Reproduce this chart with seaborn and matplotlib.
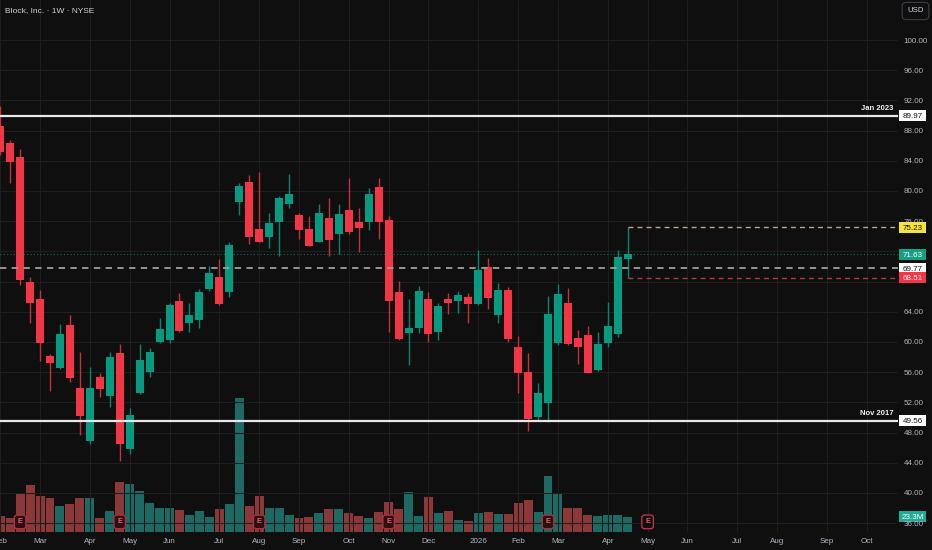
import numpy as np
import pandas as pd
import matplotlib
matplotlib.use("Agg")
import matplotlib.pyplot as plt
import matplotlib.transforms as mtransforms
from matplotlib.patches import Rectangle
import seaborn as sns

# ---------------- data ----------------
TITLE = "Block, Inc. · 1W · NYSE"
FIRST_WEEK = "2025-02-03"

opens = [88.61, 86.40, 84.54, 67.95, 65.70, 58.15, 56.52, 62.29, 53.87, 46.93,
         55.32, 52.85, 58.50, 45.87, 53.20, 56.07, 59.96, 60.26, 65.43, 62.56,
         62.87, 67.02, 68.65, 66.62, 78.50, 81.15, 74.97, 73.95, 75.89, 78.32,
         76.82, 75.01, 73.21, 76.46, 74.30, 77.48, 75.93, 75.89, 80.57, 76.16,
         66.58, 61.23, 61.89, 65.66, 61.28, 65.66, 65.47, 65.92, 65.03, 69.93,
         63.58, 66.85, 59.38, 56.07, 50.11, 51.96, 59.91, 65.12, 60.49, 60.89,
         56.29, 59.83, 61.06, 70.95]
highs = [91.26, 86.75, 85.52, 68.65, 66.89, 58.41, 62.38, 63.58, 58.63, 56.73,
         55.85, 58.72, 59.74, 51.22, 59.74, 59.17, 63.14, 65.21, 66.45, 65.21,
         66.98, 70.07, 70.95, 73.25, 81.02, 82.12, 82.48, 77.05, 79.34, 82.25,
         77.13, 76.73, 78.28, 79.03, 78.24, 81.76, 77.79, 80.36, 81.68, 76.69,
         68.08, 65.66, 67.42, 66.62, 65.13, 66.45, 66.75, 66.45, 72.19, 71.17,
         67.78, 67.25, 60.79, 58.50, 54.61, 66.09, 67.68, 67.19, 61.59, 62.16,
         61.36, 65.34, 72.19, 75.23]
lows = [84.80, 81.10, 67.51, 62.56, 57.52, 53.55, 56.40, 54.74, 47.68, 46.49,
        52.75, 51.43, 44.28, 45.17, 53.10, 55.32, 59.83, 59.91, 61.28, 61.32,
        61.89, 66.79, 64.86, 66.00, 76.78, 72.94, 73.20, 72.41, 71.43, 77.71,
        73.68, 72.70, 73.20, 71.43, 71.66, 74.30, 71.96, 74.83, 73.68, 61.36,
        60.26, 56.95, 61.23, 60.00, 60.26, 63.67, 63.88, 62.56, 64.86, 64.41,
        62.56, 60.04, 53.28, 48.21, 49.58, 49.40, 59.60, 59.60, 57.13, 55.85,
        56.20, 59.38, 60.62, 68.51]
closes = [85.17, 83.88, 68.21, 65.21, 59.91, 57.18, 61.06, 55.19, 50.20, 53.87,
          53.81, 58.05, 46.49, 50.33, 57.62, 58.68, 61.72, 64.94, 61.46, 63.58,
          66.58, 69.18, 65.03, 72.81, 80.70, 73.95, 73.29, 75.80, 79.11, 79.60,
          74.83, 72.75, 77.05, 73.51, 76.91, 74.61, 75.14, 79.56, 75.89, 65.39,
          60.44, 61.89, 66.75, 61.06, 64.81, 65.21, 66.23, 65.03, 69.54, 65.83,
          66.89, 60.36, 55.93, 49.76, 53.20, 63.71, 66.32, 59.74, 59.34, 55.93,
          59.74, 62.12, 71.26, 71.63]
volumes_m = [23.8, 21.8, 58.9, 71.0, 54.3, 51.2, 40.1, 42.6, 51.2, 51.2,
             21.3, 31.5, 75.6, 72.5, 61.9, 43.6, 36.0, 36.0, 34.0, 26.4,
             31.5, 23.3, 35.5, 42.1, 203.5, 40.1, 54.3, 37.0, 36.0, 26.4,
             21.3, 23.3, 29.4, 34.5, 34.5, 29.4, 24.4, 21.3, 29.9, 46.2,
             35.0, 61.4, 24.4, 53.3, 28.9, 31.5, 17.8, 16.7, 28.4, 31.0,
             26.9, 26.9, 44.1, 48.2, 31.0, 85.2, 58.9, 36.0, 36.0, 26.4,
             24.4, 25.4, 25.4, 23.3]
earnings_weeks = [2, 12, 26, 39, 55]
upcoming_earnings_week = 65
level_prices = [89.97, 49.56]
level_labels = ["Jan 2023", "Nov 2017"]
alert_price = 69.77
price_ticks = [36, 40, 44, 48, 52, 56, 60, 64, 68, 72, 76, 80, 84, 88, 92, 96, 100]
hidden_ticks = [68, 72]          # fully covered by price boxes in the original
last_volume_label = "23.3M"

# ---------------- style ----------------
BG = "#0f0f0f"
UP = "#089981"
DOWN = "#f23645"
UP_WICK = "#0a8571"
DOWN_WICK = "#c62f3c"
VOL_UP = "#1d6a64"
VOL_DOWN = "#8c3838"
GRID = "#1e1e1e"
TXT = "#b2b5be"
FS = 5.8

sns.set_theme(style="dark", rc={"axes.facecolor": BG, "figure.facecolor": BG,
                                "savefig.facecolor": BG})
plt.rcParams["font.family"] = ["Liberation Sans", "DejaVu Sans"]

n = len(opens)
k = np.arange(n)
df = pd.DataFrame({"k": k, "open": opens, "high": highs, "low": lows,
                   "close": closes, "volume": volumes_m})
df["dir"] = np.where(df["close"] >= df["open"], "up", "down")

# calendar for time axis
all_weeks = pd.date_range(FIRST_WEEK, periods=91, freq="W-MON")
month_pos, month_txt = [], []
prev_m = None
for i, d in enumerate(all_weeks):
    if d.month != prev_m:
        month_pos.append(i)
        month_txt.append(str(d.year) if d.month == 1 else d.strftime("%b"))
    prev_m = d.month

W, H = 932, 550
fig = plt.figure(figsize=(W / 100, H / 100), dpi=100)
PANE_W, PANE_H = 898, 532
pane = [0, (H - PANE_H) / H, PANE_W / W, PANE_H / H]
XLIM = (-0.02, 90.14)
YLIM = (34.83, 105.3)
VLIM = (0, 810)

# volume pane (underneath)
axv = fig.add_axes(pane)
sns.barplot(data=df, x="k", y="volume", native_scale=True, width=0.9,
            errorbar=None, color=VOL_UP, saturation=1, linewidth=0, ax=axv)
for patch, d in zip(axv.patches, df["dir"]):
    patch.set_facecolor(VOL_UP if d == "up" else VOL_DOWN)
axv.set_xlim(*XLIM)
axv.set_ylim(*VLIM)
axv.set_xticks([]); axv.set_yticks([])
axv.set_xlabel(""); axv.set_ylabel("")
axv.grid(False)
for s in axv.spines.values():
    s.set_visible(False)

# price pane
ax = fig.add_axes(pane)
ax.patch.set_alpha(0)
ax.set_xlim(*XLIM)
ax.set_ylim(*YLIM)
ax.set_axisbelow(True)
ax.grid(True, color=GRID, lw=0.8)
for s in ax.spines.values():
    s.set_visible(False)

up_mask = df["dir"] == "up"
cols = np.where(up_mask, UP, DOWN)
wick_cols = np.where(up_mask, UP_WICK, DOWN_WICK)
ax.vlines(df["k"], df["low"], df["high"], colors=wick_cols, lw=1.0, zorder=3)
body_lo = np.minimum(df["open"], df["close"])
body_h = np.maximum(np.abs(df["close"] - df["open"]), 0.12)
ax.bar(df["k"], body_h, bottom=body_lo, width=0.8, color=cols, linewidth=0, zorder=4)

ax.yaxis.tick_right()
ax.set_yticks(price_ticks)
ax.set_yticklabels(["" if v in hidden_ticks else f"{v:.2f}" for v in price_ticks])
ax.set_xticks(month_pos)
ax.set_xticklabels(month_txt)
ax.tick_params(axis="y", length=0, pad=4.0, labelsize=FS, labelcolor=TXT)
ax.tick_params(axis="x", length=0, pad=4.0, labelsize=FS, labelcolor=TXT)

# horizontal levels
x_end = XLIM[1]
btr = mtransforms.blended_transform_factory(ax.transAxes, ax.transData)
for p, lab in zip(level_prices, level_labels):
    ax.axhline(p, color="#e8e8e8", lw=1.6, zorder=5)
    ax.text(0.995, p + 0.5, lab, transform=btr, ha="right", va="bottom",
            fontsize=5.5, color="#f0f0f0", fontweight="bold", zorder=6)
ax.axhline(alert_price, color="#a0a0a0", lw=1.3, ls=(0, (3.5, 3)), zorder=5)
ax.axhline(closes[-1], color=UP, lw=0.8, ls=(0, (1, 2)), alpha=0.7, zorder=5)
ax.hlines(highs[-1], k[-1], x_end, color="#c9a27e", lw=1.0, ls=(0, (3.5, 3)), zorder=5)
ax.hlines(lows[-1], k[-1], x_end, color="#c0323e", lw=1.0, ls=(0, (3.5, 3)), zorder=5)

# price boxes on the right axis
BOX_W, BOX_H, BOX_X0 = 27, 11, 899


def price_box(axis, lim, y, txt, fc, tc):
    trans = mtransforms.blended_transform_factory(axis.transAxes, axis.transData)
    h = BOX_H * (lim[1] - lim[0]) / PANE_H
    axis.add_patch(Rectangle((BOX_X0 / PANE_W, y - h / 2), BOX_W / PANE_W, h,
                             transform=trans, fc=fc, ec="none", clip_on=False, zorder=9))
    axis.text((BOX_X0 + BOX_W / 2) / PANE_W, y, txt, transform=trans, ha="center",
              va="center_baseline", fontsize=FS, color=tc, clip_on=False, zorder=10)


price_box(ax, YLIM, level_prices[0], f"{level_prices[0]:.2f}", "#ffffff", "#111111")
price_box(ax, YLIM, level_prices[1], f"{level_prices[1]:.2f}", "#ffffff", "#111111")
price_box(ax, YLIM, highs[-1], f"{highs[-1]:.2f}", "#f5e23b", "#111111")
price_box(ax, YLIM, closes[-1], f"{closes[-1]:.2f}", "#14a085", "#ffffff")
price_box(ax, YLIM, alert_price, f"{alert_price:.2f}", "#ffffff", "#111111")
price_box(ax, YLIM, lows[-1], f"{lows[-1]:.2f}", "#f23645", "#ffffff")
price_box(axv, VLIM, volumes_m[-1], last_volume_label, "#22ab94", "#ffffff")

# earnings badges
bev = mtransforms.blended_transform_factory(ax.transData, ax.transAxes)
for e in earnings_weeks:
    ax.text(e, 0.019, "E", transform=bev, ha="center", va="center", fontsize=5.3,
            color="#f25c6a", fontweight="bold", zorder=8,
            bbox=dict(boxstyle="round,pad=0.45,rounding_size=0.35", fc="#2a1014",
                      ec="#b0303e", lw=1.0))
ax.text(upcoming_earnings_week, 0.019, "E", transform=bev, ha="center", va="center",
        fontsize=5.3, color="#f25c6a", fontweight="bold", zorder=8,
        bbox=dict(boxstyle="round,pad=0.45,rounding_size=0.35", fc=BG, ec="#c0304a", lw=1.0))

# title and currency button
fig.text(5 / W, 1 - 11 / H, TITLE, fontsize=6.0, color="#d1d4dc", ha="left", va="center")
fig.text(915.5 / W, 1 - 11 / H, "USD", fontsize=5.6, color="#d1d4dc", ha="center", va="center",
         bbox=dict(boxstyle="round,pad=0.65,rounding_size=0.5", fc=BG, ec="#3a3d45", lw=0.8))

fig.savefig("out.png", dpi=100, facecolor=BG)
